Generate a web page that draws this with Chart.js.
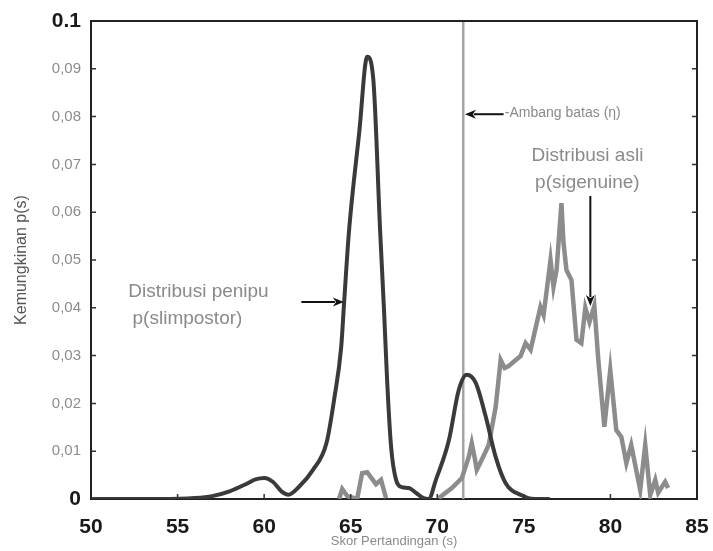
<!DOCTYPE html>
<html>
<head>
<meta charset="utf-8">
<script src="https://cdn.jsdelivr.net/npm/chart.js@4.4.1/dist/chart.umd.min.js"></script>
<style>
  html, body { margin: 0; padding: 0; background: #fff; }
  #wrap { width: 713px; height: 551px; position: relative; }
</style>
</head>
<body>
<div id="wrap"><canvas id="distChart"></canvas></div>
<script>
// Distribusi penipu (impostor) - kurva halus
const impostorX = [50, 52, 54, 56, 57, 58, 59, 59.5, 60, 60.5, 61, 61.4, 62, 62.8, 63.6, 64.05, 64.45, 64.62, 64.9, 65.5, 65.95, 66.3, 66.7, 66.93, 67.1, 67.33, 67.62, 67.96, 68.36, 68.8, 69.2, 69.5, 69.92, 70.67, 71.24, 71.7, 72.22, 72.8, 73.37, 73.95, 74.87, 75.6, 76.5];
const impostorY = [0, 0, 0, 0.0002, 0.0006, 0.0016, 0.0032, 0.0041, 0.0044, 0.0036, 0.0016, 0.0009, 0.0025, 0.006, 0.0117, 0.021, 0.0318, 0.0412, 0.056, 0.077, 0.0925, 0.088, 0.056, 0.039, 0.025, 0.011, 0.004, 0.0025, 0.0023, 0.0012, 0.0002, 0, 0.004, 0.0123, 0.0228, 0.026, 0.0243, 0.0172, 0.0088, 0.0033, 0.0008, 0, 0];

// Distribusi asli (genuine) - kurva bergerigi, null = putus
const genuineX = [64.33, 64.51, 64.8, 65.37, 65.66, 65.95, 66.46, 66.75, 67.04, 68, 70.09, 70.84, 71.42, 71.82, 71.99, 72.16, 72.28, 72.57, 72.97, 73.37, 73.66, 73.89, 74.12, 74.41, 74.81, 75.1, 75.39, 75.96, 76.14, 76.54, 76.71, 76.89, 77.17, 77.29, 77.46, 77.75, 78.04, 78.32, 78.55, 78.79, 79.07, 79.3, 79.65, 79.99, 80.34, 80.63, 80.92, 81.2, 81.72, 82.01, 82.3, 82.59, 82.76, 83.16, 83.33];
const genuineY = [0, 0.0021, 0.0006, 0, 0.0054, 0.0056, 0.0031, 0.004, 0.0002, null, 0.0002, 0.0023, 0.0044, 0.0088, 0.0117, 0.0086, 0.0061, 0.0082, 0.0113, 0.0192, 0.0291, 0.0274, 0.0278, 0.0287, 0.0299, 0.0326, 0.0312, 0.0402, 0.0385, 0.05, 0.0444, 0.0479, 0.0619, 0.0536, 0.0479, 0.0458, 0.0333, 0.0326, 0.04, 0.037, 0.0404, 0.0291, 0.0151, 0.027, 0.0144, 0.013, 0.0075, 0.0113, 0.0019, 0.0113, 0.0008, 0.004, 0.0013, 0.0036, 0.0023];

// Ambang batas (threshold)
const threshold = 71.5;

// Label sumbu
const yTickLabels = ['0', '0,01', '0,02', '0,03', '0,04', '0,05', '0,06', '0,07', '0,08', '0,09', '0.1'];
const xTickLabels = ['50', '55', '60', '65', '70', '75', '80', '85'];

const FONT = "'Liberation Sans', Arial, sans-serif";

function toPoints(xs, ys) {
  return xs.map((v, i) => ({ x: v, y: ys[i] }));
}

// Bingkai, tanda tick ke dalam, dan anotasi
const overlayPlugin = {
  id: 'overlay',
  afterDraw(chart) {
    const { ctx, chartArea: a, scales: { x, y } } = chart;
    ctx.save();

    // bingkai atas & kanan
    ctx.strokeStyle = '#222';
    ctx.lineWidth = 2;
    ctx.beginPath();
    ctx.moveTo(a.left, a.top);
    ctx.lineTo(a.right, a.top);
    ctx.lineTo(a.right, a.bottom);
    ctx.stroke();

    // tick ke dalam
    ctx.lineWidth = 1.5;
    ctx.strokeStyle = '#333';
    ctx.beginPath();
    x.ticks.forEach(t => {
      const px = x.getPixelForValue(t.value);
      if (px <= a.left + 1 || px >= a.right - 1) return;
      ctx.moveTo(px, a.bottom); ctx.lineTo(px, a.bottom - 5);
    });
    y.ticks.forEach(t => {
      const py = y.getPixelForValue(t.value);
      if (py <= a.top + 1 || py >= a.bottom - 1) return;
      ctx.moveTo(a.left, py); ctx.lineTo(a.left + 5, py);
      ctx.moveTo(a.right, py); ctx.lineTo(a.right - 5, py);
    });
    ctx.stroke();

    function arrow(x1, y1, x2, y2) {
      const p1 = [x.getPixelForValue(x1), y.getPixelForValue(y1)];
      const p2 = [x.getPixelForValue(x2), y.getPixelForValue(y2)];
      const ang = Math.atan2(p2[1] - p1[1], p2[0] - p1[0]);
      const len = 11, w = 4.5;
      ctx.strokeStyle = '#111';
      ctx.fillStyle = '#111';
      ctx.lineWidth = 2;
      ctx.beginPath();
      ctx.moveTo(p1[0], p1[1]);
      ctx.lineTo(p2[0] - Math.cos(ang) * len * 0.8, p2[1] - Math.sin(ang) * len * 0.8);
      ctx.stroke();
      ctx.beginPath();
      ctx.moveTo(p2[0], p2[1]);
      ctx.lineTo(p2[0] - Math.cos(ang) * len - Math.sin(ang) * w, p2[1] - Math.sin(ang) * len + Math.cos(ang) * w);
      ctx.lineTo(p2[0] - Math.cos(ang) * len * 0.7, p2[1] - Math.sin(ang) * len * 0.7);
      ctx.lineTo(p2[0] - Math.cos(ang) * len + Math.sin(ang) * w, p2[1] - Math.sin(ang) * len - Math.cos(ang) * w);
      ctx.closePath();
      ctx.fill();
    }

    function label(text, vx, vy, size, align) {
      ctx.fillStyle = '#8a8a8a';
      ctx.font = size + 'px ' + FONT;
      ctx.textAlign = align;
      ctx.textBaseline = 'middle';
      ctx.fillText(text, x.getPixelForValue(vx), y.getPixelForValue(vy));
    }

    // ambang batas
    arrow(73.83, 0.0805, 71.6, 0.0805);
    label('-Ambang batas (\u03b7)', 73.9, 0.0807, 14, 'left');

    // distribusi penipu
    arrow(62.15, 0.0412, 64.6, 0.0412);
    label('Distribusi penipu', 52.15, 0.0433, 19, 'left');
    label('p(slimpostor)', 52.4, 0.0378, 19, 'left');

    // distribusi asli
    arrow(78.84, 0.0634, 78.84, 0.0404);
    label('Distribusi asli', 78.67, 0.0719, 19, 'center');
    label('p(sigenuine)', 78.67, 0.0662, 19, 'center');

    ctx.restore();
  }
};

document.addEventListener('DOMContentLoaded', function() {
  const ctx = document.getElementById('distChart').getContext('2d');

  new Chart(ctx, {
    type: 'line',
    data: {
      datasets: [
        {
          label: 'Penipu',
          data: toPoints(impostorX, impostorY),
          borderColor: '#3a3a3a',
          borderWidth: 4,
          pointRadius: 0,
          tension: 0.4,
          cubicInterpolationMode: 'monotone',
          fill: false
        },
        {
          label: 'Asli',
          data: toPoints(genuineX, genuineY),
          borderColor: '#8c8c8c',
          borderWidth: 4.5,
          pointRadius: 0,
          tension: 0,
          spanGaps: false,
          fill: false
        },
        {
          label: 'Ambang',
          data: [{ x: threshold, y: 0 }, { x: threshold, y: 0.1 }],
          borderColor: '#a4a4a4',
          borderWidth: 2.5,
          pointRadius: 0,
          fill: false
        }
      ]
    },
    options: {
      responsive: true,
      maintainAspectRatio: false,
      animation: false,
      layout: { padding: { top: 21, right: 16, left: 0, bottom: 0 } },
      plugins: {
        legend: { display: false },
        tooltip: { enabled: false }
      },
      scales: {
        x: {
          type: 'linear',
          min: 50,
          max: 85,
          afterFit: function(scale) {
            scale.height = 52;
            scale.paddingRight = 0;
            scale.paddingLeft = 0;
          },
          grid: { display: false },
          border: { display: true, color: '#222', width: 2 },
          ticks: {
            stepSize: 5,
            padding: 8,
            color: '#1a1a1a',
            font: { family: FONT, size: 21, weight: 'bold' },
            callback: function(value, index) { return xTickLabels[index]; }
          },
          title: {
            display: true,
            text: 'Skor Pertandingan (s)',
            color: '#8a8a8a',
            font: { family: FONT, size: 13 },
            padding: { top: 0, bottom: 2 }
          }
        },
        y: {
          min: 0,
          max: 0.1,
          afterFit: function(scale) { scale.width = 91; },
          grid: { display: false },
          border: { display: true, color: '#222', width: 2 },
          ticks: {
            stepSize: 0.01,
            padding: 2,
            color: function(c) {
              return (c.index === 0 || c.index === yTickLabels.length - 1) ? '#1a1a1a' : '#8c8c8c';
            },
            font: function(c) {
              const edge = c.index === 0 || c.index === yTickLabels.length - 1;
              return edge ? { family: FONT, size: 21, weight: 'bold' } : { family: FONT, size: 15 };
            },
            callback: function(value, index) { return yTickLabels[index]; }
          },
          title: {
            display: true,
            text: 'Kemungkinan p(s)',
            color: '#555',
            font: { family: FONT, size: 16 },
            padding: { top: 12, bottom: 0 }
          }
        }
      }
    },
    plugins: [overlayPlugin]
  });
});
</script>
</body>
</html>
